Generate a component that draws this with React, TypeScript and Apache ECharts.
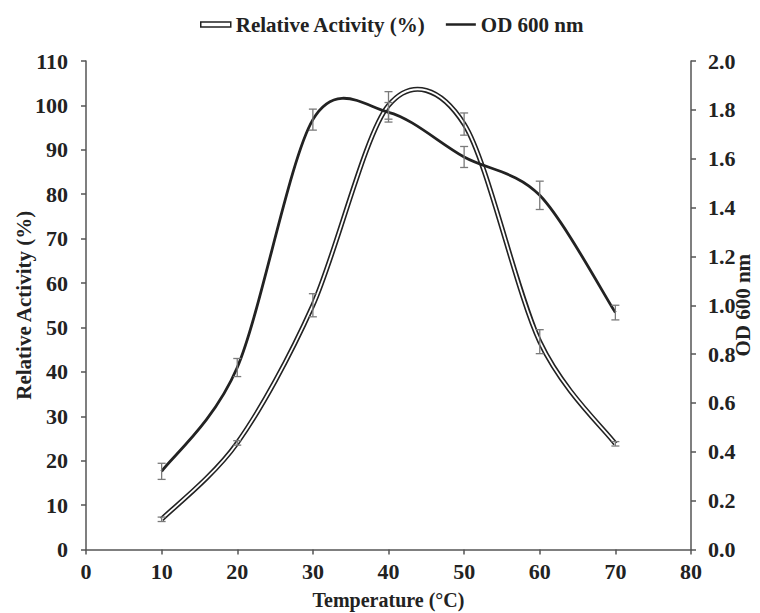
import React, { useEffect, useRef } from "react";
import * as echarts from "echarts";

// Temperature (°C)
const temperatures = [10, 20, 30, 40, 50, 60, 70];
// Relative Activity (%) and its error
const relativeActivity = [6.8, 24, 55, 100, 95.8, 46.8, 23.8];
const relativeActivityErr = [0.5, 0.5, 2.6, 3.1, 2.5, 2.7, 0.5];
// OD 600 nm and its error
const od600 = [0.32, 0.745, 1.76, 1.79, 1.607, 1.45, 0.97];
const od600Err = [0.033, 0.037, 0.043, 0.04, 0.043, 0.058, 0.03];

const RA_NAME = "Relative Activity (%)";
const OD_NAME = "OD 600 nm";

const FONT = "'Liberation Serif', 'Times New Roman', serif";
const INK = "#222222";
const AXIS = "#555555";
const ERR = "#7a7a7a";
const T = 0.155;

function smoothPath(pts: number[][]): string {
  let d = `M${pts[0][0]},${pts[0][1]}`;
  for (let i = 0; i < pts.length - 1; i++) {
    const p0 = pts[Math.max(i - 1, 0)];
    const p1 = pts[i];
    const p2 = pts[i + 1];
    const p3 = pts[Math.min(i + 2, pts.length - 1)];
    const c1x = p1[0] + (p2[0] - p0[0]) * T;
    const c1y = p1[1] + (p2[1] - p0[1]) * T;
    const c2x = p2[0] - (p3[0] - p1[0]) * T;
    const c2y = p2[1] - (p3[1] - p1[1]) * T;
    d += ` C${c1x},${c1y} ${c2x},${c2y} ${p2[0]},${p2[1]}`;
  }
  return d;
}

function lineRenderer(xs: number[], ys: number[], doubled: boolean) {
  return (params: any, api: any) => {
    if (params.dataIndex !== 0) return null;
    const pts = xs.map((x, i) => api.coord([x, ys[i]]));
    const d = smoothPath(pts);
    const children: any[] = [];
    if (doubled) {
      children.push({
        type: "path",
        shape: { pathData: d },
        style: { fill: "none", stroke: INK, lineWidth: 5, lineJoin: "round" },
      });
      children.push({
        type: "path",
        shape: { pathData: d },
        style: { fill: "none", stroke: "#ffffff", lineWidth: 1.8, lineJoin: "round" },
      });
    } else {
      children.push({
        type: "path",
        shape: { pathData: d },
        style: { fill: "none", stroke: INK, lineWidth: 2.8, lineJoin: "round" },
      });
    }
    return { type: "group", children };
  };
}

function errRenderer(params: any, api: any) {
  const x = api.value(0);
  const m = api.value(1);
  const e = api.value(2);
  const top = api.coord([x, m + e]);
  const bot = api.coord([x, m - e]);
  const hw = 4;
  const st = { stroke: ERR, lineWidth: 1.3 };
  return {
    type: "group",
    children: [
      { type: "line", shape: { x1: top[0], y1: top[1], x2: bot[0], y2: bot[1] }, style: st },
      { type: "line", shape: { x1: top[0] - hw, y1: top[1], x2: top[0] + hw, y2: top[1] }, style: st },
      { type: "line", shape: { x1: bot[0] - hw, y1: bot[1], x2: bot[0] + hw, y2: bot[1] }, style: st },
    ],
  };
}

export default function App() {
  const ref = useRef<HTMLDivElement>(null);
  useEffect(() => {
    if (!ref.current) return;
    const chart = echarts.init(ref.current, undefined, { renderer: "svg" });
    const axisLabel = { fontFamily: FONT, fontWeight: "bold", fontSize: 22, color: INK };
    const nameStyle = { fontFamily: FONT, fontWeight: "bold", fontSize: 21, color: INK };
    const axisLine = { show: true, lineStyle: { color: AXIS, width: 1.5 } };
    const axisTick = { show: true, inside: false, length: 5, lineStyle: { color: AXIS, width: 1.5 } };
    chart.setOption({
      animation: false,
      backgroundColor: "#ffffff",
      legend: {
        left: 195,
        top: 9,
        itemGap: 20,
        itemWidth: 30,
        itemHeight: 6,
        textStyle: { fontFamily: FONT, fontWeight: "bold", fontSize: 21, color: INK },
        data: [
          {
            name: RA_NAME,
            icon: "path://M0,0H30V5H0Z",
            itemStyle: { color: "#ffffff", borderColor: INK, borderWidth: 1.5 },
          },
          {
            name: OD_NAME,
            icon: "path://M0,0H30V2.5H0Z",
            itemStyle: { color: INK },
          },
        ],
      },
      grid: { left: 86, right: 69, top: 61, bottom: 63.5, containLabel: false, outerBoundsMode: "none" },
      xAxis: {
        type: "value",
        min: 0,
        max: 80,
        interval: 10,
        name: "Temperature (°C)",
        nameLocation: "middle",
        nameGap: 40,
        nameMoveOverlap: false,
        nameTextStyle: { ...nameStyle, fontSize: 20 },
        axisLine,
        axisTick,
        splitLine: { show: false },
        axisLabel: { ...axisLabel, margin: 11 },
      },
      yAxis: [
        {
          type: "value",
          min: 0,
          max: 110,
          interval: 10,
          name: RA_NAME,
          nameLocation: "middle",
          nameGap: 52,
          nameRotate: 90,
          nameMoveOverlap: false,
          nameTextStyle: nameStyle,
          axisLine,
          axisTick,
          splitLine: { show: false },
          axisLabel: { ...axisLabel, margin: 18 },
        },
        {
          type: "value",
          min: 0,
          max: 2,
          interval: 0.2,
          position: "right",
          name: OD_NAME,
          nameLocation: "middle",
          nameGap: 41,
          nameRotate: 90,
          nameMoveOverlap: false,
          nameTextStyle: nameStyle,
          axisLine,
          axisTick,
          splitLine: { show: false },
          axisLabel: { ...axisLabel, margin: 17, formatter: (v: number) => v.toFixed(1) },
        },
      ],
      series: [
        {
          name: RA_NAME,
          type: "custom",
          yAxisIndex: 0,
          renderItem: lineRenderer(temperatures, relativeActivity, true),
          data: temperatures.map((t, i) => [t, relativeActivity[i]]),
          encode: { x: 0, y: 1 },
          z: 2,
        },
        {
          name: OD_NAME,
          type: "custom",
          yAxisIndex: 1,
          renderItem: lineRenderer(temperatures, od600, false),
          data: temperatures.map((t, i) => [t, od600[i]]),
          encode: { x: 0, y: 1 },
          z: 2,
        },
        {
          name: "RA error",
          type: "custom",
          yAxisIndex: 0,
          renderItem: errRenderer,
          data: temperatures.map((t, i) => [t, relativeActivity[i], relativeActivityErr[i]]),
          encode: { x: 0, y: 1 },
          z: 3,
        },
        {
          name: "OD error",
          type: "custom",
          yAxisIndex: 1,
          renderItem: errRenderer,
          data: temperatures.map((t, i) => [t, od600[i], od600Err[i]]),
          encode: { x: 0, y: 1 },
          z: 3,
        },
      ],
    });
    return () => chart.dispose();
  }, []);
  return (
    <div
      ref={ref}
      style={{ position: "absolute", left: 0, top: 0, width: 760, height: 613, background: "#fff" }}
    />
  );
}
